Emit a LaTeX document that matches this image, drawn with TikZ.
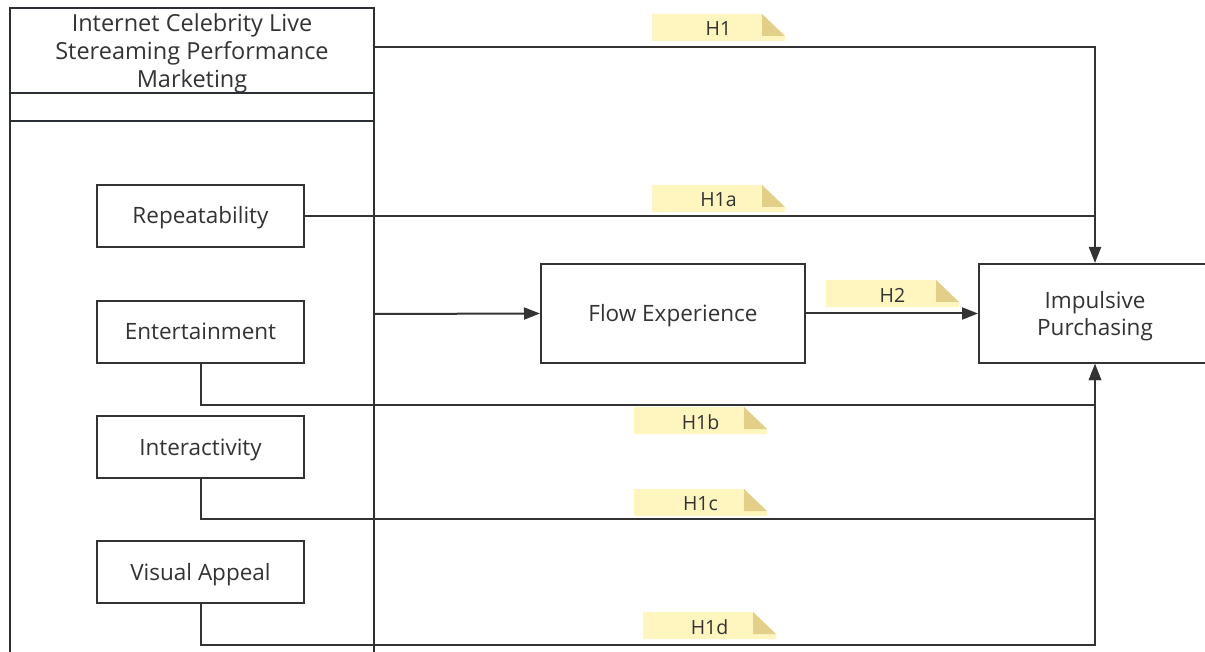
\documentclass[tikz,border=0pt]{standalone}
\usepackage{fontspec}
\setmainfont{Open Sans}
\usetikzlibrary{arrows.meta}
\definecolor{ln}{HTML}{333333}
\definecolor{cl}{HTML}{2B2F36}
\definecolor{nfill}{HTML}{FFF5BF}
\definecolor{nfold}{HTML}{E3CF87}
\tikzset{
  box/.style={draw=ln,line width=2pt,minimum width=207pt,minimum height=62pt,inner sep=0pt,text=ln,font=\fontsize{22.5}{27}\selectfont,text height=16pt,text depth=0pt},
  bigbox/.style={box,minimum width=264pt,minimum height=99pt},
  conn/.style={draw=ln,line width=2pt},
  arr/.style={conn,-{Triangle[length=16pt,width=12pt]}},
  contl/.style={draw=cl,line width=2.8pt},
  notetext/.style={text=ln,font=\fontsize{19.5}{22}\selectfont,inner sep=0pt}
}
\newcommand{\hnote}[4]{%
  \fill[nfill] (#2,#3) -- ++(110,0) -- ++(23,22) -- ++(0,5) -- ++(-133,0) -- cycle;
  \fill[nfold] (#2+110,#3) -- ++(0,22) -- ++(23,0) -- cycle;
  \node[notetext] (#1) at (#2+66.5,#3+15) {#4};}
\begin{document}
\begin{tikzpicture}[x=1pt,y=-1pt]
\useasboundingbox (0,0) rectangle (1205,652);
\clip (0,0) rectangle (1205,652);
\fill[white] (0,0) rectangle (1205,652);
% container
\draw[contl] (10,660) -- (10,8) -- (374,8) -- (374,660);
\draw[contl] (10,93) -- (374,93);
\draw[contl] (10,121) -- (374,121);
\node[text=ln,align=center,font=\fontsize{23.5}{28}\selectfont,inner sep=0pt] (head) at (192,53) {Internet Celebrity Live\\Stereaming Performance\\Marketing};
\coordinate (c1) at (374,47);
\coordinate (c2) at (374,314);
% boxes
\node[box] (rep) at (200.5,216) {Repeatability};
\node[box] (ent) at (200.5,332) {Entertainment};
\node[box] (int) at (200.5,447) {Interactivity};
\node[box] (vis) at (200.5,572) {Visual Appeal};
\node[bigbox] (flow) at (673,313.5) {Flow Experience};
\node[bigbox,minimum width=232pt,align=center,font=\fontsize{22.5}{27}\selectfont,text height=,text depth=] (imp) at (1095,313.5) {\rule{0pt}{25pt}Impulsive\\Purchasing\strut};
\coordinate (j1c) at (1095,519);
% connectors
\draw[arr] (c1) -| (imp.north);
\draw[conn] (rep.east) -- (rep.east -| imp.north);
\draw[arr] (c2) -- (flow.west);
\draw[arr] (flow.east) -- (imp.west);
\draw[arr] (ent.south) -- ++(0,41) -| (imp.south);
\draw[conn] (int.south) |- (j1c);
\draw[arr] (vis.south) -- ++(0,41) -| (imp.south);
% notes
\hnote{n1}{652}{14}{H1}
\hnote{n1a}{652}{185}{H1a}
\hnote{n2}{826}{280}{H2}
\hnote{n1b}{634}{407}{H1b}
\hnote{n1c}{634}{489}{H1c}
\hnote{n1d}{643}{612}{H1d}
\end{tikzpicture}
\end{document}
